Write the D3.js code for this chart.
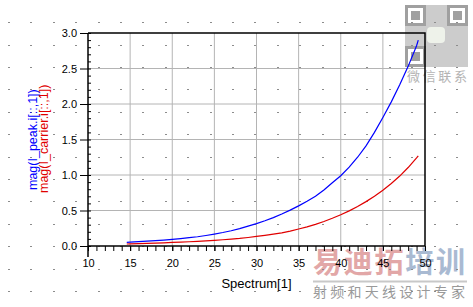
<!DOCTYPE html>
<html>
<head>
<meta charset="utf-8">
<script src="https://cdn.jsdelivr.net/npm/d3@7"></script>
<style>
  body { margin: 0; background: #fff; }
  svg { display: block; }
  text { font-family: "Liberation Sans", Arial, sans-serif; }
</style>
</head>
<body>
<div id="chart"></div>
<script>
// data
var spectrum = [14.6, 15, 16, 17, 18, 19, 20, 21, 22, 23, 24, 25, 26, 27, 28, 29, 30, 31, 32,
    33, 34, 35, 36, 37, 38, 39, 40, 41, 42, 43, 44, 45, 46, 47, 48, 49, 49.2];
var peakMag = [0.052, 0.055, 0.062, 0.068, 0.075, 0.084, 0.094, 0.105, 0.117, 0.13, 0.148, 0.168,
    0.19, 0.215, 0.245, 0.28, 0.315, 0.355, 0.40, 0.45, 0.505, 0.565, 0.63, 0.70, 0.79, 0.89,
    0.99, 1.11, 1.25, 1.41, 1.60, 1.81, 2.03, 2.27, 2.53, 2.82, 2.9];
var carrierMag = [0.028, 0.03, 0.033, 0.037, 0.041, 0.045, 0.05, 0.055, 0.06, 0.066, 0.073, 0.08,
    0.088, 0.097, 0.107, 0.12, 0.135, 0.15, 0.167, 0.186, 0.21, 0.24, 0.27, 0.305, 0.345, 0.39,
    0.44, 0.495, 0.555, 0.625, 0.70, 0.785, 0.88, 0.985, 1.105, 1.24, 1.27];
var xTicks = [10, 15, 20, 25, 30, 35, 40, 45, 50];
var yTicks = [0, 0.5, 1.0, 1.5, 2.0, 2.5, 3.0];

var svgWidth = 473;
var svgHeight = 307;
var margin = { top: 33, right: 48, bottom: 61, left: 88 };
var chartWidth = svgWidth - margin.left - margin.right;
var chartHeight = svgHeight - margin.top - margin.bottom;

var svg = d3.select("#chart")
    .append("svg")
    .attr("width", svgWidth)
    .attr("height", svgHeight);

// watermark (drawn first, chart sits on top)
var wm = svg.append("g");
wm.append("rect").attr("x", 405).attr("y", 5).attr("width", 63).attr("height", 62).attr("fill", "#cccccc");
[[405, 5], [447, 5], [405, 46]].forEach(function(p) {
    wm.append("rect").attr("x", p[0] + 1.5).attr("y", p[1] + 1.5).attr("width", 18).attr("height", 18)
        .attr("fill", "#fff").attr("stroke", "#a0a0a0").attr("stroke-width", 3);
    wm.append("rect").attr("x", p[0] + 6).attr("y", p[1] + 6).attr("width", 9).attr("height", 9).attr("fill", "#a0a0a0");
});
wm.append("rect").attr("x", 427).attr("y", 27).attr("width", 18).attr("height", 16).attr("rx", 4).attr("fill", "#eef2ea");
wm.append("text").attr("x", 407).attr("y", 81).attr("textLength", 60).attr("lengthAdjust", "spacing")
    .style("font-family", "'Noto Sans CJK SC'").style("font-size", "13px").attr("fill", "#b4b4b4").text("微信联系");
var brand = wm.append("text").attr("x", 313).attr("y", 273).attr("textLength", 152).attr("lengthAdjust", "spacing")
    .style("font-family", "'Noto Sans CJK SC'").style("font-size", "29px").style("font-weight", "bold");
brand.append("tspan").attr("fill", "#e2a7a7").text("易迪拓");
brand.append("tspan").attr("fill", "#a9bad2").text("培训");
wm.append("line").attr("x1", 313).attr("x2", 467).attr("y1", 281.5).attr("y2", 281.5)
    .attr("stroke", "#c8c8c8").attr("stroke-width", 2);
wm.append("text").attr("x", 313).attr("y", 297).attr("textLength", 152).attr("lengthAdjust", "spacing")
    .style("font-family", "'Noto Sans CJK SC'").style("font-size", "14px").attr("fill", "#9a9a9a").text("射频和天线设计专家");

// background dot grid
var dotCols = d3.range(0, 21).map(function(i) { return 9 + i * 22.4; });
var dotRows = d3.range(0, 13).map(function(i) { return 22.2 + i * 22.4; });
dotRows.forEach(function(y) {
    svg.append("g").selectAll("rect")
        .data(dotCols)
        .enter()
        .append("rect")
        .attr("x", d => Math.round(d) - 1)
        .attr("y", Math.round(y))
        .attr("width", 2)
        .attr("height", 1)
        .attr("fill", "#8c8c8c");
});

var chartGroup = svg.append("g")
    .attr("transform", `translate(${margin.left}, ${margin.top})`);

var xLinearScale = d3.scaleLinear().domain([10, 50]).range([0, chartWidth]);
var yLinearScale = d3.scaleLinear().domain([0, 3]).range([chartHeight, 0]);

// grid
chartGroup.append("g")
    .selectAll("line")
    .data(xTicks.slice(1, -1))
    .enter()
    .append("line")
    .attr("x1", d => xLinearScale(d)).attr("x2", d => xLinearScale(d))
    .attr("y1", 0).attr("y2", chartHeight)
    .attr("stroke", "#b4b4b4").attr("stroke-width", 1);
chartGroup.append("g")
    .selectAll("line")
    .data(yTicks.slice(1, -1))
    .enter()
    .append("line")
    .attr("y1", d => yLinearScale(d)).attr("y2", d => yLinearScale(d))
    .attr("x1", 0).attr("x2", chartWidth)
    .attr("stroke", "#b4b4b4").attr("stroke-width", 1);

// frame top/right
chartGroup.append("path")
    .attr("d", `M0,0H${chartWidth}V${chartHeight}`)
    .attr("fill", "none").attr("stroke", "#000").attr("stroke-width", 1.5);

// minor ticks
var bottomMinor = d3.axisBottom(xLinearScale).ticks(40).tickSize(5).tickFormat("");
chartGroup.append("g")
    .attr("transform", `translate(0, ${chartHeight})`)
    .call(bottomMinor)
    .call(g => g.select(".domain").remove());
var leftMinor = d3.axisRight(yLinearScale).ticks(30).tickSize(3).tickFormat("");
chartGroup.append("g")
    .call(leftMinor)
    .call(g => g.select(".domain").remove());

// main axes
var bottomAxis = d3.axisBottom(xLinearScale).tickValues(xTicks).tickSize(5).tickPadding(8);
var leftAxis = d3.axisLeft(yLinearScale).tickValues(yTicks).tickSize(8).tickPadding(3).tickFormat(d3.format(".1f"));

var xAxisG = chartGroup.append("g")
    .attr("transform", `translate(0, ${chartHeight})`)
    .call(bottomAxis);
var yAxisG = chartGroup.append("g")
    .call(leftAxis);

[xAxisG, yAxisG].forEach(function(g) {
    g.select(".domain").attr("stroke-width", 1.5);
    g.selectAll("text").style("font-size", "11px").attr("fill", "#000");
});
xAxisG.select(".domain").attr("d", `M0,0H${chartWidth}`);
yAxisG.select(".domain").attr("d", `M0,0V${chartHeight + 11}`);

// curves
var peakLine = d3.line()
    .x((d, i) => xLinearScale(spectrum[i]))
    .y(d => yLinearScale(d));

chartGroup.append("path")
    .datum(peakMag)
    .attr("d", peakLine)
    .attr("fill", "none")
    .attr("stroke", "#0000ff")
    .attr("stroke-width", 1.2);

chartGroup.append("path")
    .datum(carrierMag)
    .attr("d", peakLine)
    .attr("fill", "none")
    .attr("stroke", "#e00000")
    .attr("stroke-width", 1.2);

// axis labels
svg.append("text")
    .attr("transform", "translate(37, 190) rotate(-90)")
    .style("font-size", "12.5px")
    .attr("fill", "#0000ff")
    .text("mag(I_peak.i[::,1])");

svg.append("text")
    .attr("transform", "translate(48, 193) rotate(-90)")
    .style("font-size", "12.5px")
    .attr("fill", "#e00000")
    .text("mag(I_carrier.i[::,1])");

svg.append("text")
    .attr("x", margin.left + xLinearScale(30))
    .attr("y", 288)
    .attr("text-anchor", "middle")
    .style("font-size", "13px")
    .attr("fill", "#000")
    .text("Spectrum[1]");
</script>
</body>
</html>
